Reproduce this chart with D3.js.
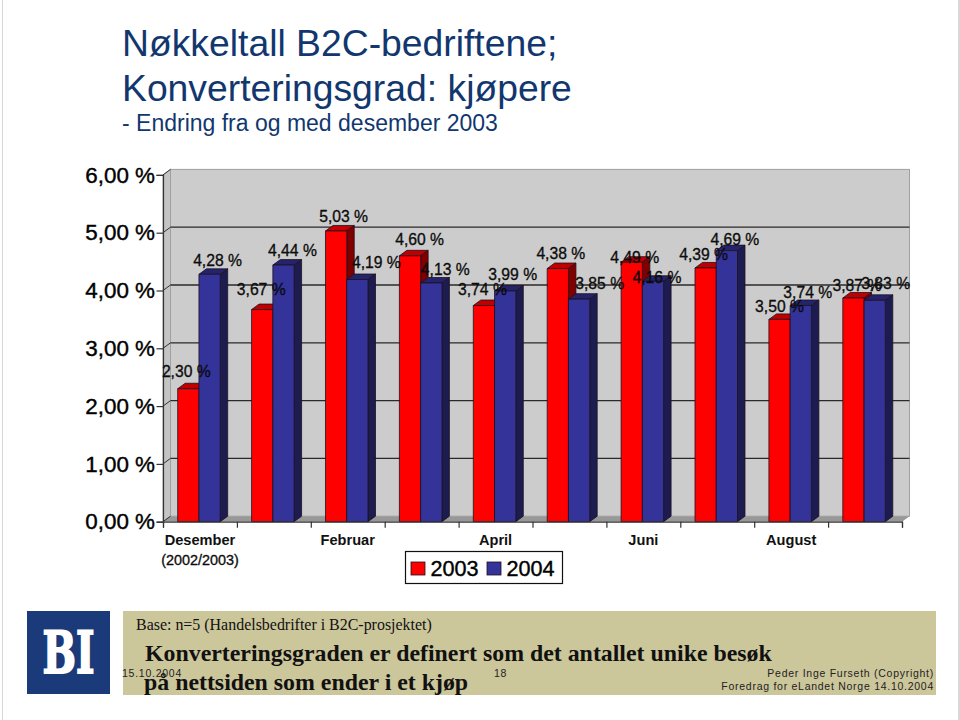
<!DOCTYPE html>
<html>
<head>
<meta charset="utf-8">
<script src="https://cdn.jsdelivr.net/npm/d3@7/dist/d3.min.js"></script>
<style>
  html, body { margin: 0; padding: 0; background: #fff; }
  svg { display: block; }
  text { font-family: "Liberation Sans", Arial, sans-serif; }
  .serif { font-family: "Liberation Serif", "Times New Roman", serif; }
  .heavy { stroke: #000; stroke-width: 0.4px; }
</style>
</head>
<body>
<div id="chart"></div>
<script>
// values
var categories = ["Desember", "Januar", "Februar", "Mars", "April", "Mai", "Juni", "Juli", "August", "September"];
var shownCategories = ["Desember", "Februar", "April", "Juni", "August"];
var values2003 = [2.30, 3.67, 5.03, 4.60, 3.74, 4.38, 4.49, 4.39, 3.50, 3.87];
var values2004 = [4.28, 4.44, 4.19, 4.13, 3.99, 3.85, 4.16, 4.69, 3.74, 3.83];
var seriesNames = ["2003", "2004"];
var yTicks = [0, 1, 2, 3, 4, 5, 6];

// the original data labels sit wherever the slide put them, so they get nudged by hand
var labelNudge = [
  [[-2, -17], [-1, -20], [7.5, -14], [9.6, -16], [-1.5, -16.5], [3, -15.5], [3, -5], [-2, -13], [0, -13], [3.5, -13]],
  [[8, -14], [9, -15], [19, -17], [14, -13], [7.5, -17], [20.6, -16], [4, -4], [8, -11], [7, -13.5], [11, -17]]
];

var colors = [
  {front: "#ff0000", top: "#c00000", side: "#800000"},
  {front: "#333399", top: "#24246c", side: "#1c1c50"}
];

var width = 960, height = 720;
var left = 163, right = 902, top0 = 174.9, bottom = 521.7;
var depthX = 7.5, depthY = 5.5;
var titleColor = "#12376f";

var svg = d3.select("#chart").append("svg")
  .attr("width", width)
  .attr("height", height);

// page edges
svg.append("rect").attr("x", 2).attr("y", 0).attr("width", 1).attr("height", height).attr("fill", "#d8d8d8");
svg.append("rect").attr("x", 958).attr("y", 0).attr("width", 2).attr("height", height).attr("fill", "#d8d8d8");

// title
svg.append("text").attr("x", 122).attr("y", 56).attr("font-size", 37.3).attr("fill", titleColor).text("Nøkkeltall B2C-bedriftene;");
svg.append("text").attr("x", 122).attr("y", 101).attr("font-size", 37.3).attr("fill", titleColor).text("Konverteringsgrad: kjøpere");
svg.append("text").attr("x", 122).attr("y", 130.5).attr("font-size", 23).attr("fill", titleColor).text("- Endring fra og med desember 2003");

var y = d3.scaleLinear().domain([0, 6]).range([bottom, top0]);
var x = d3.scaleBand().domain(categories).range([left, right])
  .paddingInner(0.425).paddingOuter(0.2125).align(0.468);
var xEdges = d3.scaleLinear().domain([0, categories.length]).range([left, right]);
var barW = x.bandwidth() / 2;

// walls and floor
var g = svg.append("g");
g.append("rect")
  .attr("x", left + depthX).attr("y", y(6) - depthY)
  .attr("width", right - left).attr("height", bottom - y(6))
  .attr("fill", "#cccccc").attr("stroke", "#a0a0a0");
g.append("polygon")
  .attr("points", [[left, y(6)], [left + depthX, y(6) - depthY], [left + depthX, bottom - depthY], [left, bottom]].join(" "))
  .attr("fill", "#c4c4c4").attr("stroke", "#a0a0a0");
g.append("polygon")
  .attr("points", [[left, bottom], [left + depthX, bottom - depthY], [right + depthX, bottom - depthY], [right, bottom]].join(" "))
  .attr("fill", "#989898");

// gridlines on the back wall and their run down the side wall
g.selectAll("line.grid")
  .data(yTicks.filter(function(d) { return d > 0 && d < 6; }))
  .enter().append("line")
  .attr("class", "grid")
  .attr("x1", left + depthX).attr("x2", right + depthX)
  .attr("y1", function(d) { return y(d) - depthY; })
  .attr("y2", function(d) { return y(d) - depthY; })
  .attr("stroke", "#2a2a2a").attr("stroke-width", 1.3);
g.selectAll("line.gridside")
  .data(yTicks)
  .enter().append("line")
  .attr("class", "gridside")
  .attr("x1", left).attr("x2", left + depthX)
  .attr("y1", function(d) { return y(d); })
  .attr("y2", function(d) { return y(d) - depthY; })
  .attr("stroke", "#333");

// bars, back to front, each as front + top + side
var groups = svg.selectAll("g.cat")
  .data(categories)
  .enter().append("g")
  .attr("class", "cat");

[values2003, values2004].forEach(function(vals, s) {
  var bars = groups.append("g").attr("class", "bar");
  var x0 = function(d) { return x(d) + s * barW; };
  var top = function(d, i) { return y(vals[i]); };

  bars.append("polygon")
    .attr("points", function(d, i) {
      var a = x0(d), t = top(d, i);
      return [[a, t], [a + depthX, t - depthY], [a + barW + depthX, t - depthY], [a + barW, t]].join(" ");
    })
    .attr("fill", colors[s].top);
  bars.append("polygon")
    .attr("points", function(d, i) {
      var b = x0(d) + barW, t = top(d, i);
      return [[b, t], [b + depthX, t - depthY], [b + depthX, bottom - depthY], [b, bottom]].join(" ");
    })
    .attr("fill", colors[s].side);
  bars.append("rect")
    .attr("x", x0)
    .attr("y", top)
    .attr("width", barW)
    .attr("height", function(d, i) { return bottom - top(d, i); })
    .attr("fill", colors[s].front);
  bars.selectAll("polygon, rect")
    .attr("stroke", "#201020")
    .attr("stroke-width", 0.8)
    .attr("stroke-linejoin", "round");
});

// axes
var yAxis = d3.axisLeft(y)
  .tickValues(yTicks)
  .tickSizeOuter(0)
  .tickSize(6.5)
  .tickPadding(1.5)
  .tickFormat(function(d) { return d3.format(".2f")(d).replace(".", ",") + " %"; });
var yG = svg.append("g")
  .attr("class", "y axis")
  .attr("transform", "translate(" + left + ",0)")
  .call(yAxis);
yG.selectAll("text")
  .attr("font-size", 22.4)
  .attr("fill", "#000")
  .attr("class", "heavy")
  .style("font-family", '"Liberation Sans"');

var tickAxis = d3.axisBottom(xEdges)
  .tickValues(d3.range(0, categories.length + 1))
  .tickSizeOuter(0)
  .tickSize(6)
  .tickFormat("");
svg.append("g")
  .attr("class", "x axis")
  .attr("transform", "translate(0," + bottom + ")")
  .call(tickAxis);

var labelAxis = d3.axisBottom(d3.scaleBand().domain(categories).range([left, right]))
  .tickValues(shownCategories)
  .tickSize(0)
  .tickPadding(13);
var lG = svg.append("g")
  .attr("transform", "translate(0," + bottom + ")")
  .call(labelAxis);
lG.select(".domain").remove();
lG.selectAll("text")
  .attr("font-size", 14.6)
  .attr("font-weight", "bold")
  .attr("fill", "#111")
  .style("font-family", '"Liberation Sans"');
svg.selectAll(".axis path, .axis line").attr("stroke", "#333").attr("stroke-width", 1.2);

svg.append("text")
  .attr("x", x("Desember") + x.bandwidth() / 2 + 1)
  .attr("y", 565)
  .attr("text-anchor", "middle")
  .attr("font-size", 14.4)
  .attr("fill", "#111")
  .attr("class", "heavy")
  .style("stroke-width", "0.3px")
  .text("(2002/2003)");

// data labels go on last, they overlap the bars in the original
[values2003, values2004].forEach(function(vals, s) {
  svg.append("g").selectAll("text")
    .data(vals)
    .enter().append("text")
    .attr("x", function(d, i) { return x(categories[i]) + s * barW + barW / 2 + labelNudge[s][i][0]; })
    .attr("y", function(d) { return y(d); })
    .attr("dy", function(d, i) { return labelNudge[s][i][1] + 5.5; })
    .attr("text-anchor", "middle")
    .attr("font-size", 15.7)
    .attr("fill", "#111")
    .attr("class", "heavy")
    .style("stroke-width", "0.3px")
    .text(function(d) { return d3.format(".2f")(d).replace(".", ",") + " %"; });
});

// legend
var legend = svg.append("g").attr("class", "legend");
legend.append("rect")
  .attr("x", 405.5).attr("y", 551.5).attr("width", 157).attr("height", 32)
  .attr("fill", "#fff").attr("stroke", "#111").attr("stroke-width", 1.2);
var legendX = d3.scalePoint().domain(seriesNames).range([411, 487]);
legend.selectAll("rect.key")
  .data(seriesNames)
  .enter().append("rect")
  .attr("class", "key")
  .attr("x", function(d) { return legendX(d); })
  .attr("y", 562).attr("width", 14).attr("height", 13)
  .attr("fill", function(d, i) { return colors[i].front; })
  .attr("stroke", "#201020").attr("stroke-width", 0.8);
legend.selectAll("text")
  .data(seriesNames)
  .enter().append("text")
  .attr("x", function(d) { return legendX(d) + 19.5; })
  .attr("y", 576)
  .attr("font-size", 21.6)
  .attr("fill", "#000")
  .attr("class", "heavy")
  .text(function(d) { return d; });

// footer band and logo
svg.append("rect").attr("x", 27).attr("y", 611).attr("width", 83).attr("height", 83).attr("fill", "#1b3a7a");
svg.append("text").attr("x", 68.5).attr("y", 673).attr("text-anchor", "middle")
  .attr("font-size", 58).attr("font-weight", "bold").attr("fill", "#fff")
  .attr("stroke", "#fff").attr("stroke-width", 2)
  .style("font-family", '"DejaVu Serif"')
  .attr("textLength", 52).attr("lengthAdjust", "spacingAndGlyphs").text("BI");
svg.append("rect").attr("x", 123).attr("y", 611).attr("width", 813).attr("height", 84).attr("fill", "#ccc69b");
svg.append("text").attr("class", "serif").attr("x", 136).attr("y", 630).attr("font-size", 15.95).attr("fill", "#111")
  .text("Base: n=5 (Handelsbedrifter i B2C-prosjektet)");
svg.append("text").attr("class", "serif").attr("x", 145).attr("y", 661).attr("font-size", 23.85).attr("font-weight", "bold").attr("fill", "#111")
  .text("Konverteringsgraden er definert som det antallet unike besøk");
svg.append("text").attr("class", "serif").attr("x", 144).attr("y", 690).attr("font-size", 23.85).attr("font-weight", "bold").attr("fill", "#111")
  .text("på nettsiden som ender i et kjøp");
svg.append("text").attr("x", 122).attr("y", 677).attr("font-size", 10.5).attr("letter-spacing", 0.75).attr("fill", "#222").text("15.10.2004");
svg.append("text").attr("x", 494).attr("y", 677).attr("font-size", 10.5).attr("letter-spacing", 0.75).attr("fill", "#222").text("18");
svg.append("text").attr("x", 934).attr("y", 677).attr("text-anchor", "end").attr("font-size", 10.5).attr("letter-spacing", 0.73).attr("fill", "#222").text("Peder Inge Furseth (Copyright)");
svg.append("text").attr("x", 934).attr("y", 690).attr("text-anchor", "end").attr("font-size", 10.5).attr("letter-spacing", 0.73).attr("fill", "#222").text("Foredrag for eLandet Norge 14.10.2004");
</script>
</body>
</html>
